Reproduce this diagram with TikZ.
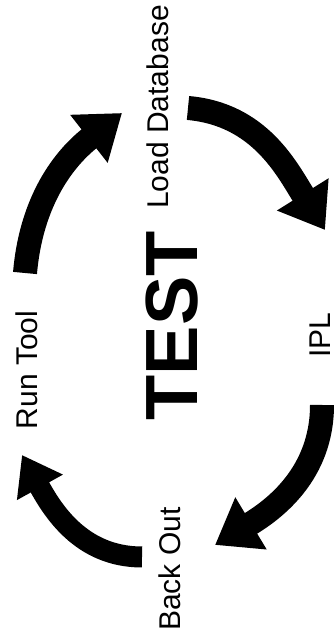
\documentclass[tikz,border=0pt]{standalone}
\usepackage{fontspec}
\setmainfont{Liberation Sans}
\usetikzlibrary{arrows.meta}

\begin{document}
\begin{tikzpicture}[x=1pt,y=1pt,
  lbl/.style={rotate=90,anchor=base,inner sep=0pt,font=\fontsize{30}{36}\selectfont},
  cyc/.style={line width=24pt,-{Triangle[length=42pt,width=58pt]}}]
  \useasboundingbox (0,0) rectangle (334,644);
  \node[lbl] (load) at (168,537) {Load Database};
  \node[lbl] (ipl) at (330,309) {IPL};
  \node[lbl] (backout) at (180,75) {Back Out};
  \node[lbl] (runtool) at (37,274) {Run Tool};
  \node[lbl,font=\fontsize{74}{80}\selectfont\bfseries] (test) at (197,318) {TEST};
  \coordinate (rt-out) at (25,371);
  \coordinate (ld-in) at (122,531);
  \coordinate (ld-out) at (188,536);
  \coordinate (ipl-in) at (325,414);
  \coordinate (ipl-out) at (322,239);
  \coordinate (bo-in) at (215,99);
  \coordinate (bo-out) at (142,87);
  \coordinate (rt-in) at (22,189);
  \draw[cyc] (rt-out) to[out=85,in=218] (ld-in);
  \draw[cyc] (ld-out) to[out=-5,in=122] (ipl-in);
  \draw[cyc] (ipl-out) to[out=-90,in=31] (bo-in);
  \draw[cyc,line width=21pt,-{Triangle[length=37pt,width=50pt]}] (bo-out) to[out=180,in=-61] (rt-in);
\end{tikzpicture}
\end{document}
